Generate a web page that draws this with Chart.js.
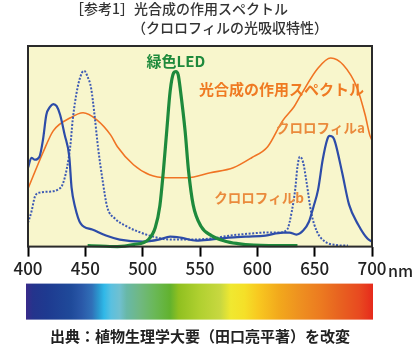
<!DOCTYPE html>
<html>
<head>
<meta charset="utf-8">
<script src="https://cdn.jsdelivr.net/npm/chart.js@4/dist/chart.umd.min.js"></script>
<style>
html,body{margin:0;padding:0;background:#fff;}
#wrap{width:412px;height:352px;}
</style>
</head>
<body>
<div id="wrap"><canvas id="c" width="412" height="352"></canvas></div>
<script>
// ---- data (wavelength nm, relative value 0-100) ----
const xTicks = [400, 450, 500, 550, 600, 650, 700];

const actionNm  = [400, 413, 422, 437, 448, 460, 472, 478, 492, 506, 521, 539, 559, 579, 595, 609, 622, 632, 638, 653, 664, 675, 687, 694, 698, 700];
const actionVal = [28.9, 46.8, 57.7, 64.2, 66.7, 63.2, 55.7, 49.8, 40.8, 35.8, 34.3, 34.3, 36.8, 39.3, 44.3, 49.8, 62.7, 69.7, 75.6, 89, 94, 90.5, 79.1, 65.7, 55.7, 53];

const chlANm  = [400, 403, 406, 410, 413, 416, 419, 422, 425, 428, 432, 436, 438, 441, 446, 456, 468, 480, 500, 514, 524, 533, 547, 559, 575, 590, 607, 622, 628, 634, 640, 645, 649, 653, 657, 661, 663, 666, 668, 674, 680, 688, 696, 700];
const chlAVal = [39.3, 44.3, 43.3, 44.8, 53, 65.7, 69.5, 71, 70, 65.7, 55.7, 44.8, 29.4, 19.9, 11.4, 8.5, 5.5, 3.5, 2.5, 3.5, 5, 4.5, 3, 3.5, 4.5, 5, 5.5, 7, 7, 6, 8, 12.4, 19.9, 28.4, 43.3, 53.5, 55.2, 54.5, 51.7, 36.8, 20.9, 10.9, 4, 2.5];

const chlBNm  = [400, 403, 406, 410, 419, 426, 430, 434, 437, 439, 443, 447, 449, 452, 455, 458, 461, 465, 469, 476, 485, 496, 509, 524, 540, 559, 576, 594, 607, 619, 626, 630, 633, 635, 637, 640, 643, 647, 652, 659, 668, 679];
const chlBVal = [11.9, 17.4, 24.9, 26.9, 27.4, 28.4, 30.8, 39.3, 50.7, 63.2, 78.6, 86.6, 87.6, 84.6, 79.1, 65.7, 49.8, 33.3, 19.9, 13.9, 10.4, 7.5, 5, 3.5, 3.5, 4, 5.5, 6.5, 7, 7, 8.5, 17.4, 28.4, 39.8, 44.8, 41.8, 31.8, 16.9, 7.5, 2.5, 0.8, 0.5];

const ledNm  = [452, 463, 478, 492, 505, 511, 515, 518, 521, 524, 527, 529, 531, 533, 537, 540, 544, 551, 560, 572, 583, 597, 610, 635];
const ledVal = [0.5, 0.3, 0, 1, 3.5, 9.5, 20.4, 37.3, 57.7, 77.6, 86.6, 87.3, 85.6, 77.6, 57.7, 37.8, 20.9, 10, 5.5, 2.7, 1.5, 0.7, 0.5, 0.5];

const titleLines = ['［参考1］光合成の作用スペクトル', '（クロロフィルの光吸収特性）'];
const footerText = '出典：植物生理学大要（田口亮平著）を改変';
const unitText = 'nm';
// labels: [text, nm, value, color, font]
const seriesLabels = [
  ['緑色LED', 529, 92.5, '#1e8a3c', 'bold 15px "Noto Sans CJK JP"'],
  ['光合成の作用スペクトル', 621, 78.6, '#ef7a22', 'bold 15px "Noto Sans CJK JP"'],
  ['クロロフィルa', 655, 59, '#ea8a3c', 'bold 13.5px "Noto Sans CJK JP"'],
  ['クロロフィルb', 601.5, 24.1, '#ea8a3c', 'bold 13.5px "Noto Sans CJK JP"']
];
// spectrum colour stops (fraction along bar)
const specStops = [
  [0.00, '#3a2a8a'], [0.02, '#24348c'], [0.06, '#1e3a90'], [0.13, '#1f4a9a'],
  [0.16, '#2a58a8'], [0.19, '#3070b8'], [0.21, '#2a9ad0'], [0.225, '#30b8e8'],
  [0.245, '#5ac0e0'], [0.27, '#70c0d0'], [0.29, '#68b8a8'], [0.33, '#70b880'],
  [0.37, '#6ab858'], [0.415, '#62b22e'], [0.44, '#90c020'], [0.50, '#b0d030'],
  [0.56, '#c8d840'], [0.59, '#f0e830'], [0.63, '#f5e028'], [0.67, '#f8c820'],
  [0.73, '#f2a81c'], [0.79, '#ee9020'], [0.85, '#ec7a20'], [0.90, '#e86420'],
  [0.96, '#e84a20'], [1.00, '#e62a1c']
];

const toPts = (xs, ys) => xs.map((x, i) => ({x: x, y: ys[i]}));

const decor = {
  id: 'decor',
  beforeDatasetsDraw(chart) {
    const {ctx, chartArea: a} = chart;
    ctx.save();
    ctx.fillStyle = '#f8f6cc';
    ctx.fillRect(a.left, a.top, a.right - a.left, a.bottom - a.top);
    ctx.restore();
  },
  afterDatasetsDraw(chart) {
    const {ctx, chartArea: a, scales} = chart;
    const xs = scales.x, ys = scales.y;
    ctx.save();
    // frame
    ctx.strokeStyle = '#2a2a2a';
    ctx.lineWidth = 2;
    ctx.strokeRect(a.left, a.top, a.right - a.left, a.bottom - a.top);
    // series labels
    ctx.textAlign = 'center';
    ctx.textBaseline = 'middle';
    seriesLabels.forEach(l => {
      ctx.font = l[4];
      ctx.fillStyle = l[3];
      ctx.fillText(l[0], xs.getPixelForValue(l[1]), ys.getPixelForValue(l[2]));
    });
    ctx.restore();
  },
  afterDraw(chart) {
    const {ctx, chartArea: a, scales} = chart;
    const xs = scales.x;
    ctx.save();
    // title
    ctx.fillStyle = '#333';
    ctx.font = '500 14px "Noto Sans CJK JP"';
    ctx.textAlign = 'left';
    ctx.textBaseline = 'middle';
    ctx.fillText(titleLines[0], 70, 9);
    ctx.fillText(titleLines[1], 132, 28);
    // unit
    ctx.fillStyle = '#222';
    ctx.font = '500 16px "Noto Sans CJK JP"';
    ctx.fillText(unitText, xs.getPixelForValue(700) + 16, a.bottom + 24);
    // spectrum bar
    const x0 = xs.getPixelForValue(400) - 2, x1 = xs.getPixelForValue(700) + 1;
    const g = ctx.createLinearGradient(x0, 0, x1, 0);
    specStops.forEach(s => g.addColorStop(s[0], s[1]));
    ctx.fillStyle = g;
    ctx.fillRect(x0, a.bottom + 37, x1 - x0, 36);
    // footer
    ctx.fillStyle = '#222';
    ctx.font = 'bold 15px "Noto Sans CJK JP"';
    ctx.textAlign = 'center';
    ctx.fillText(footerText, 200, 336);
    ctx.restore();
  }
};

new Chart(document.getElementById('c'), {
  type: 'line',
  data: {
    datasets: [
      {label: '緑色LED', data: toPts(ledNm, ledVal), borderColor: '#1e8a3c', borderWidth: 3.2, order: 0},
      {label: 'クロロフィルa', data: toPts(chlANm, chlAVal), borderColor: '#2d4ca8', borderWidth: 2.2, order: 1},
      {label: 'クロロフィルb', data: toPts(chlBNm, chlBVal), borderColor: '#3d5ab4', borderWidth: 2, borderDash: [2, 1.6], order: 2},
      {label: '光合成の作用スペクトル', data: toPts(actionNm, actionVal), borderColor: '#f07424', borderWidth: 1.6, order: 3}
    ]
  },
  options: {
    responsive: false,
    animation: false,
    devicePixelRatio: 1,
    layout: {padding: {left: 28, right: 40, top: 46, bottom: 71}},
    elements: {
      point: {radius: 0},
      line: {tension: 0.4, cubicInterpolationMode: 'monotone', fill: false}
    },
    datasets: {line: {clip: 6}},
    plugins: {legend: {display: false}, tooltip: {enabled: false}, title: {display: false}},
    scales: {
      x: {
        type: 'linear', min: 400, max: 700,
        afterBuildTicks: (s) => { s.ticks = xTicks.map(v => ({value: v})); },
        ticks: {color: '#222', font: {family: '"Noto Sans CJK JP"', size: 17, weight: 500}, padding: 2, maxRotation: 0, autoSkip: false},
        grid: {drawOnChartArea: false, drawTicks: true, tickLength: 10, tickColor: '#000', tickWidth: 2},
        border: {display: false}
      },
      y: {display: false, min: 0, max: 100}
    }
  },
  plugins: [decor]
});
</script>
</body>
</html>
